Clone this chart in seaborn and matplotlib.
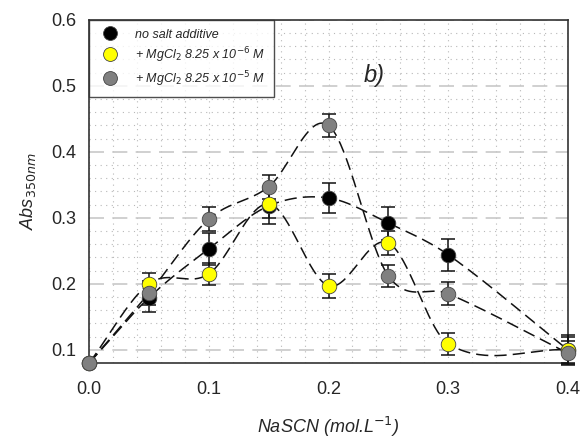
import numpy as np
import pandas as pd
import matplotlib
matplotlib.use("Agg")
import matplotlib.pyplot as plt
from matplotlib.lines import Line2D
from matplotlib.ticker import MultipleLocator
import seaborn as sns

# ---- data ----
nascn = [0.0, 0.05, 0.10, 0.15, 0.20, 0.25, 0.30, 0.40]
abs_none = [0.080, 0.179, 0.253, 0.318, 0.330, 0.292, 0.244, 0.100]
err_none = [0.000, 0.022, 0.024, 0.028, 0.023, 0.025, 0.024, 0.022]
abs_mg6 = [0.080, 0.200, 0.215, 0.321, 0.197, 0.262, 0.109, 0.100]
err_mg6 = [0.000, 0.017, 0.017, 0.022, 0.018, 0.018, 0.017, 0.020]
abs_mg5 = [0.080, 0.186, 0.298, 0.347, 0.440, 0.212, 0.185, 0.095]
err_mg5 = [0.000, 0.018, 0.018, 0.018, 0.018, 0.017, 0.017, 0.018]
labels = ["no salt additive",
          r"+ MgCl$_2$ 8.25 x 10$^{-6}$ M",
          r"+ MgCl$_2$ 8.25 x 10$^{-5}$ M"]
colors = ["#000000", "#ffff00", "#808080"]


def smooth_curve(x, y, n=40):
    """Cubic Hermite curve through the points (Catmull-Rom style tangents)."""
    x = np.asarray(x, float)
    y = np.asarray(y, float)
    k = len(x)
    m = np.empty(k)
    m[0] = (y[1] - y[0]) / (x[1] - x[0])
    m[-1] = (y[-1] - y[-2]) / (x[-1] - x[-2])
    for i in range(1, k - 1):
        m[i] = (y[i + 1] - y[i - 1]) / (x[i + 1] - x[i - 1])
    xs_all, ys_all = [], []
    for i in range(k - 1):
        h = x[i + 1] - x[i]
        t = np.linspace(0, 1, n, endpoint=(i == k - 2))
        h00 = 2 * t ** 3 - 3 * t ** 2 + 1
        h10 = t ** 3 - 2 * t ** 2 + t
        h01 = -2 * t ** 3 + 3 * t ** 2
        h11 = t ** 3 - t ** 2
        xs_all.append(x[i] + t * h)
        ys_all.append(h00 * y[i] + h10 * h * m[i] + h01 * y[i + 1] + h11 * h * m[i + 1])
    return np.concatenate(xs_all), np.concatenate(ys_all)


sns.set_style("white")
plt.rcParams["font.family"] = ["Liberation Sans", "DejaVu Sans"]
plt.rcParams["mathtext.default"] = "it"

fig = plt.figure(figsize=(5.83, 4.41), dpi=100)
ax = fig.add_axes([0.153, 0.177, 0.821, 0.778])

series = [abs_none, abs_mg6, abs_mg5]
errs = [err_none, err_mg6, err_mg5]

rows = []
for lab, ys in zip(labels, series):
    for xv, yv in zip(nascn, ys):
        rows.append({"x": xv, "y": yv, "s": lab})
df = pd.DataFrame(rows)

# smooth dashed curves
for ys in series:
    xs, yy = smooth_curve(nascn, ys)
    ax.plot(xs, yy, color="#111111", lw=1.1, dashes=(8, 4), zorder=3)

# error bars
for ys, es in zip(series, errs):
    ax.errorbar(nascn, ys, yerr=es, fmt="none", ecolor="#111111",
                elinewidth=1.1, capsize=5, capthick=1.1, zorder=4, clip_on=False)

# markers
for i, (lab, col) in enumerate(zip(labels, colors)):
    sub = df[df["s"] == lab]
    sns.scatterplot(data=sub, x="x", y="y", ax=ax, color=col, s=110,
                    edgecolor="#444444", linewidth=0.6, zorder=5 + i,
                    clip_on=False, legend=False)

ax.set_xlim(0, 0.4)
ax.set_ylim(0.08, 0.6)
ax.xaxis.set_minor_locator(MultipleLocator(0.02))
ax.yaxis.set_minor_locator(MultipleLocator(0.02))
ax.set_xticks([0.0, 0.1, 0.2, 0.3, 0.4])
ax.set_xticklabels(["0.0", "0.1", "0.2", "0.3", "0.4"])
ax.set_yticks([0.1, 0.2, 0.3, 0.4, 0.5, 0.6])
ax.set_yticklabels(["0.1", "0.2", "0.3", "0.4", "0.5", "0.6"])

ax.grid(which="minor", axis="both", color="#b8b8b8", lw=0.8, ls=(0, (1, 4)))
ax.grid(which="major", axis="x", color="#b8b8b8", lw=0.8, ls=(0, (1, 4)))
ax.grid(which="major", axis="y", color="#c8c8c8", lw=1.2, ls=(0, (9, 5)))
ax.set_axisbelow(True)

ax.tick_params(axis="x", which="major", direction="out", length=5, width=1,
               labelsize=13, pad=8, color="#333333")
ax.tick_params(axis="y", which="major", direction="inout", length=10, width=1,
               labelsize=13, pad=4, color="#333333")
ax.tick_params(which="minor", length=0)
for sp in ax.spines.values():
    sp.set_visible(True)
    sp.set_color("#333333")
    sp.set_linewidth(1.2)

ax.set_xlabel(r"NaSCN (mol.L$^{-1}$)", fontsize=13, style="italic", labelpad=12)
ax.set_ylabel(r"Abs$_{350nm}$", fontsize=13, style="italic", labelpad=10)

ax.text(0.238, 0.515, "b)", fontsize=17, style="italic", ha="center", va="center")

handles = [Line2D([], [], ls="none", marker="o", markersize=10,
                  markerfacecolor=c, markeredgecolor="#444444", markeredgewidth=0.6)
           for c in colors]
leg = ax.legend(handles, labels, loc="upper left", bbox_to_anchor=(0, 1),
                borderaxespad=0, frameon=True, fancybox=False,
                prop={"style": "italic", "size": 9}, handletextpad=1.0,
                borderpad=0.7, labelspacing=0.35, handlelength=2.0)
leg.get_frame().set_edgecolor("#222222")
leg.get_frame().set_linewidth(1.0)
leg.set_zorder(10)

fig.savefig("out.png", dpi=100)
